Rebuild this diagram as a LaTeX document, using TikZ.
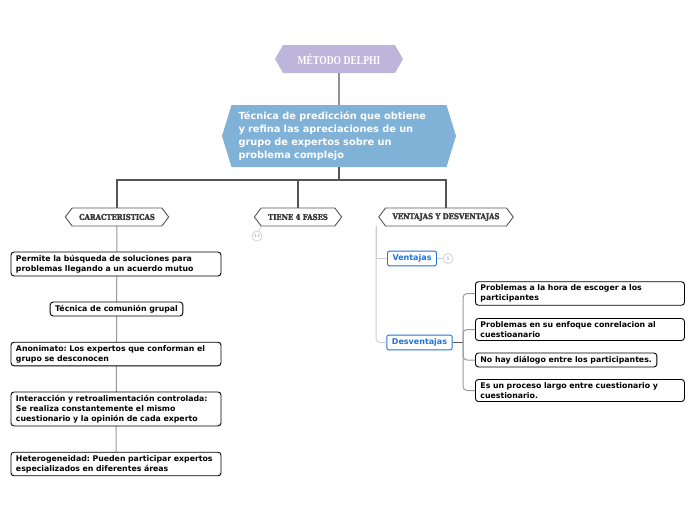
\documentclass[tikz,border=0pt]{standalone}
\usepackage{fontspec}
\setmainfont{DejaVu Sans}
\newfontfamily\titlefont{Liberation Serif Bold}[FakeStretch=0.8]
\newfontfamily\topicfont{DejaVu Serif Bold}[FakeStretch=0.86, FakeBold=2]
\usepackage{tikz}
\usetikzlibrary{shapes.symbols}
\usetikzlibrary{backgrounds}
\hyphenpenalty=10000
\exhyphenpenalty=10000
\frenchspacing
\definecolor{lavender}{HTML}{BDB5DA}
\definecolor{skyblue}{HTML}{80B1D7}
\definecolor{linkgray}{HTML}{555555}
\definecolor{midgray}{HTML}{9A9A9A}
\definecolor{pale}{HTML}{CFCFCF}
\definecolor{vblue}{HTML}{1F75D6}
\definecolor{topicgray}{HTML}{3A3A3A}
\tikzset{
    hexa/.style={shape=signal, signal to=east and west, inner sep=0pt},
    titlehex/.style={hexa, fill=lavender, text=white, signal pointer angle=120,
        minimum width=128pt, minimum height=28pt, font=\titlefont\fontsize{12}{12}\selectfont},
    mainhex/.style={hexa, fill=skyblue, text=white, signal pointer angle=146,
        minimum height=62pt, inner xsep=7pt, text width=201pt, align=left,
        font=\fontsize{9.8}{13}\selectfont\bfseries},
    topichex/.style={hexa, draw=linkgray, fill=white, line width=0.9pt, text=topicgray,
        signal pointer angle=106, minimum height=18pt, inner xsep=7pt,
        font=\topicfont\fontsize{8}{8}\selectfont},
    leaf/.style={draw=black, fill=white, line width=0.9pt, rounded corners=3pt,
        inner xsep=5pt, inner ysep=3pt, align=left,
        font=\fontsize{7.8}{10}\selectfont\bfseries},
    wideleaf/.style={leaf, text width=200pt},
    sub/.style={draw=vblue, fill=white, line width=0.9pt, rounded corners=2pt,
        text=vblue, inner xsep=5pt, inner ysep=3.5pt, font=\fontsize{8}{10}\selectfont\bfseries},
    count/.style={circle, draw=pale, fill=white, line width=0.7pt, minimum size=10pt,
        inner sep=0pt, text=midgray, font=\fontsize{4.5}{5}\selectfont},
    link/.style={draw=linkgray, line width=1.1pt},
    colline/.style={draw=midgray, line width=1pt},
    paleline/.style={draw=pale, line width=1pt},
}
\begin{document}
\begin{tikzpicture}[x=1pt, y=-1pt]
    \useasboundingbox (0,0) rectangle (696,520);

    % central topic
    \node[titlehex] (title) at (339,59) {MÉTODO DELPHI};
    \node[mainhex] (main) at (339,136) {Técnica de predicción que obtiene\\ y refina las apreciaciones de un\\ grupo de expertos sobre un\\ problema complejo};

    % main branches
    \node[topichex] (carac) at (117,217) {CARACTERISTICAS};
    \node[topichex] (fases) at (298,217) {TIENE 4 FASES};
    \node[topichex] (vd) at (446,217) {VENTAJAS Y DESVENTAJAS};

    \coordinate (bar) at (339,180);
    \draw[link] (title) -- (main);
    \draw[link] (main) -- (bar);
    \draw[link] (bar) -| (carac);
    \draw[link] (bar) -| (fases);
    \draw[link] (bar) -| (vd);

    % caracteristicas
    \node[wideleaf] (c1) at (116,264) {Permite la búsqueda de soluciones para problemas llegando a un acuerdo mutuo};
    \node[leaf] (c2) at (116.5,309) {Técnica de comunión grupal};
    \node[wideleaf] (c3) at (116,354) {Anonimato: Los expertos que conforman el grupo se desconocen};
    \node[wideleaf] (c4) at (116,409) {Interacción y retroalimentación controlada: Se realiza constantemente el mismo cuestionario y la opinión de cada experto};
    \node[wideleaf] (c5) at (116,464) {Heterogeneidad: Pueden participar expertos especializados en diferentes áreas};
    \begin{scope}[on background layer]
        \draw[colline] (carac.center) -- (c5.center);
    \end{scope}

    % fases (collapsed)
    \node[count] (num13) at (257,236) {13};
    \draw[paleline, line width=0.7pt] (fases.south west) -- (num13);

    % ventajas y desventajas
    \node[sub] (vent) at (412,258.5) {Ventajas};
    \node[count] (num5) at (448,258.5) {5};
    \node[sub] (desv) at (419.5,342.5) {Desventajas};
    \coordinate (vdfoot) at (376,226);
    \draw[paleline] (vdfoot) |- (vent);
    \draw[paleline, rounded corners=4pt] (vdfoot) |- (desv);
    \draw[paleline, line width=0.7pt] (vent) -- (num5);

    \node[leaf, text width=199pt, anchor=west] (d1) at (475,293.5) {Problemas a la hora de escoger a los participantes};
    \node[leaf, text width=199pt, anchor=west] (d2) at (475,329.5) {Problemas en su enfoque conrelacion al cuestioanario};
    \node[leaf, anchor=west] (d3) at (475,360) {No hay diálogo entre los participantes.};
    \node[leaf, text width=199pt, anchor=west] (d4) at (475,390.5) {Es un proceso largo entre cuestionario y cuestionario.};

    \coordinate (dj) at (463,342.5);
    \draw[link] (desv) -- (dj);
    \foreach \d in {d1,d2,d3,d4}
        \draw[colline, rounded corners=4pt] (dj) |- (\d);
\end{tikzpicture}
\end{document}
